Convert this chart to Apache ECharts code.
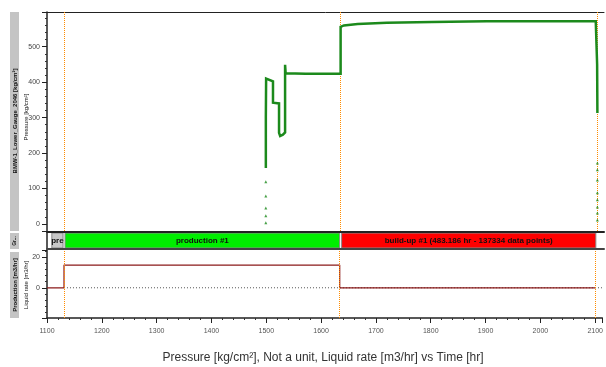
<!DOCTYPE html>
<html>
<head>
<meta charset="utf-8">
<script src="https://cdn.jsdelivr.net/npm/echarts@6/dist/echarts.min.js"></script>
<style>
  html, body { margin: 0; padding: 0; background: #fff; }
  #chart { width: 606px; height: 367px; }
</style>
</head>
<body>
<div id="chart"></div>
<script>
// pressure trace [time hr, kg/cm2]
var pressureLine = [
  [1498, 158], [1498, 300], [1498.5, 410], [1502, 405], [1511, 402], [1511, 342],
  [1522, 340], [1522, 257], [1524, 248], [1529, 252], [1533, 258], [1533, 449],
  [1534, 425], [1570, 424], [1634, 424], [1634, 556], [1640, 560], [1665, 564],
  [1718, 568], [1800, 570], [1900, 572], [2000, 572], [2098, 572], [2100, 568],
  [2100.5, 450], [2101, 313]
]
var pressureDots = [
  [1498, 3], [1498, 23], [1498, 45], [1498, 79], [1498, 119],
  [2101, 11], [2101, 31], [2101, 48], [2101, 68], [2101, 88], [2101, 124], [2101, 153], [2101, 172]
]
// liquid rate [time hr, m3/hr]
var liquidRate = [[1100, 0], [1131, 0], [1131, 15], [1634, 15], [1634, 0], [2100, 0]]
var zeroRef = [[1131, 0], [2113, 0]]
// flow periods [start, end, label, colour]
var periods = [
  [1107, 1131, 'pre', '#c8c8c8'],
  [1131, 1634, 'production #1', '#00ee00'],
  [1634, 2100, 'build-up #1 (483.186 hr - 137334 data points)', '#ff0000']
]
var periodMarks = [1131, 1634, 2100]

var chart = echarts.init(document.getElementById('chart'))
var axisCol = '#222'
var vLines = {
  silent: true,
  symbol: 'none',
  label: { show: false },
  lineStyle: { color: '#ff8c00', type: 'dotted', width: 1 },
  data: periodMarks.map(function(t) { return { xAxis: t } })
}
function xAx(grid, pos, extra) {
  return Object.assign({
    type: 'value', gridIndex: grid, position: pos, min: 1100, max: 2113,
    axisLine: { show: true, onZero: false, lineStyle: { color: axisCol, width: 1 } },
    axisTick: { show: false }, axisLabel: { show: false }, splitLine: { show: false }
  }, extra || {})
}
var option = {
  animation: false,
  textStyle: { fontFamily: 'Liberation Sans, Arial, sans-serif' },
  title: {
    text: 'Pressure [kg/cm²], Not a unit, Liquid rate [m3/hr] vs Time [hr]',
    left: 318, textAlign: 'center', top: 347,
    textStyle: { fontSize: 12, fontWeight: 'normal', color: '#333' }
  },
  grid: [
    { left: 47, top: 12, width: 557, height: 219 },
    { left: 47, top: 232, width: 557, height: 17 },
    { left: 47, top: 250, width: 557, height: 68 }
  ],
  xAxis: [
    xAx(0, 'top'),
    xAx(1, 'top', { axisLine: { show: true, onZero: false, lineStyle: { color: axisCol, width: 2 } } }),
    xAx(1, 'bottom', { axisLine: { show: true, onZero: false, lineStyle: { color: '#444', width: 2 } } }),
    xAx(2, 'bottom', {
      interval: 100,
      axisLine: { show: true, onZero: false, lineStyle: { color: axisCol, width: 1.5 } },
      axisTick: { show: true, length: 5, inside: false, lineStyle: { color: axisCol } },
      minorTick: { show: true, splitNumber: 5, length: 2, lineStyle: { color: '#333' } },
      axisLabel: { show: true, fontSize: 7, color: '#555', margin: 10,
        formatter: function(v) { return String(v) } }
    })
  ],
  yAxis: [
    {
      type: 'value', gridIndex: 0, min: -20, max: 598, splitNumber: 6,
      axisLine: { show: true, onZero: false, lineStyle: { color: axisCol, width: 1.5 } },
      axisTick: { show: true, length: 5, lineStyle: { color: axisCol } },
      minorTick: { show: true, splitNumber: 5, length: 2, lineStyle: { color: '#333' } },
      axisLabel: { fontSize: 7, color: '#444', margin: 7, showMinLabel: false, showMaxLabel: false },
      splitLine: { show: false }
    },
    {
      type: 'value', gridIndex: 1, min: 0, max: 1,
      axisLine: { show: true, onZero: false, lineStyle: { color: axisCol, width: 1.5 } },
      axisTick: { show: false }, axisLabel: { show: false }, splitLine: { show: false }
    },
    {
      type: 'value', gridIndex: 2, min: -20, max: 25, interval: 20,
      axisLine: { show: true, onZero: false, lineStyle: { color: axisCol, width: 1.5 } },
      axisTick: { show: true, length: 5, lineStyle: { color: axisCol } },
      minorTick: { show: true, splitNumber: 5, length: 2, lineStyle: { color: '#333' } },
      axisLabel: { fontSize: 7, color: '#444', margin: 7, showMinLabel: false, showMaxLabel: false },
      splitLine: { show: false }
    }
  ],
  series: [
    { type: 'line', xAxisIndex: 0, yAxisIndex: 0, data: [], z: 1, markLine: vLines },
    { type: 'line', xAxisIndex: 3, yAxisIndex: 2, data: [], z: 1, markLine: vLines },
    {
      type: 'line', xAxisIndex: 0, yAxisIndex: 0, data: pressureLine, z: 5,
      showSymbol: false, lineStyle: { color: '#1c8a1c', width: 2.5, join: 'miter' }
    },
    {
      type: 'scatter', xAxisIndex: 0, yAxisIndex: 0, data: pressureDots, z: 5,
      symbol: 'triangle', symbolSize: 3, itemStyle: { color: '#1c8a1c' }
    },
    {
      type: 'custom', xAxisIndex: 2, yAxisIndex: 1, data: periods, z: 0,
      encode: { x: [0, 1] },
      renderItem: function(params, api) {
        var row = periods[params.dataIndex]
        var p0 = api.coord([row[0], 1])
        var p1 = api.coord([row[1], 0])
        var w = p1[0] - p0[0]
        var h = p1[1] - p0[1]
        return {
          type: 'group',
          children: [
            { type: 'rect', shape: { x: p0[0] + 1, y: p0[1] + 1, width: w - 2, height: h - 2 },
              style: { fill: row[3], stroke: '#888', lineWidth: 1 } },
            { type: 'text', x: p0[0] + w / 2, y: p0[1] + h / 2,
              style: { text: row[2], fill: '#111', font: 'bold 8px Liberation Sans, Arial, sans-serif',
                align: 'center', verticalAlign: 'middle' } }
          ]
        }
      }
    },
    {
      type: 'line', xAxisIndex: 3, yAxisIndex: 2, data: zeroRef, z: 3,
      showSymbol: false, lineStyle: { color: '#555', width: 1, type: [1, 2] }
    },
    {
      type: 'line', xAxisIndex: 3, yAxisIndex: 2, data: liquidRate, z: 4,
      showSymbol: false, lineStyle: { color: '#8b1a1a', width: 1.2 }
    }
  ],
  graphic: [
    { type: 'rect', shape: { x: 10, y: 12, width: 9, height: 219 }, style: { fill: '#c4c4c4' } },
    { type: 'text', x: 15, y: 121, rotation: Math.PI / 2,
      style: { text: 'BMW-1_Lower_Gauge_2046 [kg/cm²]', font: 'bold 6px Liberation Sans, Arial, sans-serif',
        fill: '#111', align: 'center', verticalAlign: 'middle' } },
    { type: 'text', x: 26, y: 117, rotation: Math.PI / 2,
      style: { text: 'Pressure [kg/cm²]', font: '6px Liberation Sans, Arial, sans-serif',
        fill: '#111', align: 'center', verticalAlign: 'middle' } },
    { type: 'rect', shape: { x: 10, y: 233, width: 9, height: 16 }, style: { fill: '#c4c4c4' } },
    { type: 'text', x: 15, y: 241, rotation: Math.PI / 2,
      style: { text: 'Gr...', font: 'bold 5px Liberation Sans, Arial, sans-serif',
        fill: '#111', align: 'center', verticalAlign: 'middle' } },
    { type: 'rect', shape: { x: 10, y: 252, width: 9, height: 66 }, style: { fill: '#c4c4c4' } },
    { type: 'text', x: 15, y: 285, rotation: Math.PI / 2,
      style: { text: 'Production [m3/hr]', font: 'bold 6px Liberation Sans, Arial, sans-serif',
        fill: '#111', align: 'center', verticalAlign: 'middle' } },
    { type: 'text', x: 26, y: 285, rotation: Math.PI / 2,
      style: { text: 'Liquid rate [m3/hr]', font: '6px Liberation Sans, Arial, sans-serif',
        fill: '#111', align: 'center', verticalAlign: 'middle' } }
  ]
}
chart.setOption(option)
window.addEventListener('resize', function() {
  chart.resize()
})
</script>
</body>
</html>
